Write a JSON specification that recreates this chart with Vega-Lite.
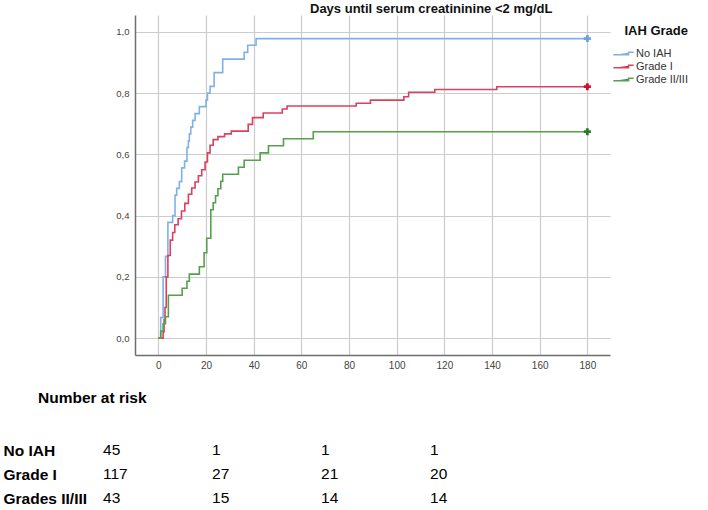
{
  "$schema": "https://vega.github.io/schema/vega-lite/v6.json",
  "padding": {"left": 3, "top": 3, "right": 0, "bottom": 0},
  "background": "white",
  "config": {
    "view": {"stroke": null},
    "font": "Liberation Sans"
  },
  "datasets": {
    "km": [
      {"grade": "No IAH", "day": 0, "p": 0},
      {"grade": "No IAH", "day": 1, "p": 0.067},
      {"grade": "No IAH", "day": 2, "p": 0.2},
      {"grade": "No IAH", "day": 3, "p": 0.267},
      {"grade": "No IAH", "day": 4, "p": 0.378},
      {"grade": "No IAH", "day": 6, "p": 0.4},
      {"grade": "No IAH", "day": 7, "p": 0.467},
      {"grade": "No IAH", "day": 7.7, "p": 0.489},
      {"grade": "No IAH", "day": 8.8, "p": 0.511},
      {"grade": "No IAH", "day": 9.8, "p": 0.556},
      {"grade": "No IAH", "day": 11, "p": 0.578},
      {"grade": "No IAH", "day": 12, "p": 0.622},
      {"grade": "No IAH", "day": 12.6, "p": 0.644},
      {"grade": "No IAH", "day": 13, "p": 0.667},
      {"grade": "No IAH", "day": 13.6, "p": 0.689},
      {"grade": "No IAH", "day": 14.4, "p": 0.711},
      {"grade": "No IAH", "day": 15.4, "p": 0.733},
      {"grade": "No IAH", "day": 17.2, "p": 0.756},
      {"grade": "No IAH", "day": 20, "p": 0.778},
      {"grade": "No IAH", "day": 20.6, "p": 0.8},
      {"grade": "No IAH", "day": 21.7, "p": 0.822},
      {"grade": "No IAH", "day": 23.4, "p": 0.867},
      {"grade": "No IAH", "day": 27, "p": 0.911},
      {"grade": "No IAH", "day": 36, "p": 0.933},
      {"grade": "No IAH", "day": 37.5, "p": 0.956},
      {"grade": "No IAH", "day": 41, "p": 0.978},
      {"grade": "No IAH", "day": 180, "p": 0.978},
      {"grade": "Grade I", "day": 0, "p": 0},
      {"grade": "Grade I", "day": 2, "p": 0.02},
      {"grade": "Grade I", "day": 2.4, "p": 0.06},
      {"grade": "Grade I", "day": 2.8, "p": 0.1},
      {"grade": "Grade I", "day": 3.3, "p": 0.2},
      {"grade": "Grade I", "day": 4, "p": 0.27},
      {"grade": "Grade I", "day": 5, "p": 0.32},
      {"grade": "Grade I", "day": 6, "p": 0.345},
      {"grade": "Grade I", "day": 6.9, "p": 0.37},
      {"grade": "Grade I", "day": 8.3, "p": 0.39},
      {"grade": "Grade I", "day": 9.7, "p": 0.415},
      {"grade": "Grade I", "day": 11.1, "p": 0.44},
      {"grade": "Grade I", "day": 12.6, "p": 0.47},
      {"grade": "Grade I", "day": 14, "p": 0.49},
      {"grade": "Grade I", "day": 15.4, "p": 0.51},
      {"grade": "Grade I", "day": 16.8, "p": 0.53},
      {"grade": "Grade I", "day": 18.2, "p": 0.55},
      {"grade": "Grade I", "day": 19.6, "p": 0.575},
      {"grade": "Grade I", "day": 20.6, "p": 0.605},
      {"grade": "Grade I", "day": 21.7, "p": 0.63},
      {"grade": "Grade I", "day": 23, "p": 0.648},
      {"grade": "Grade I", "day": 25, "p": 0.658},
      {"grade": "Grade I", "day": 27.8, "p": 0.667},
      {"grade": "Grade I", "day": 30.6, "p": 0.676},
      {"grade": "Grade I", "day": 37.7, "p": 0.698},
      {"grade": "Grade I", "day": 39.5, "p": 0.72},
      {"grade": "Grade I", "day": 44, "p": 0.735},
      {"grade": "Grade I", "day": 52, "p": 0.748},
      {"grade": "Grade I", "day": 54, "p": 0.758},
      {"grade": "Grade I", "day": 83, "p": 0.767},
      {"grade": "Grade I", "day": 89, "p": 0.777},
      {"grade": "Grade I", "day": 103, "p": 0.788},
      {"grade": "Grade I", "day": 105, "p": 0.803},
      {"grade": "Grade I", "day": 116, "p": 0.812},
      {"grade": "Grade I", "day": 142, "p": 0.821},
      {"grade": "Grade I", "day": 180, "p": 0.821},
      {"grade": "Grade II/III", "day": 0, "p": 0},
      {"grade": "Grade II/III", "day": 1, "p": 0.023},
      {"grade": "Grade II/III", "day": 2, "p": 0.047},
      {"grade": "Grade II/III", "day": 3, "p": 0.07},
      {"grade": "Grade II/III", "day": 4.2, "p": 0.14},
      {"grade": "Grade II/III", "day": 10, "p": 0.163},
      {"grade": "Grade II/III", "day": 12, "p": 0.186},
      {"grade": "Grade II/III", "day": 13, "p": 0.209},
      {"grade": "Grade II/III", "day": 17.2, "p": 0.233},
      {"grade": "Grade II/III", "day": 19.2, "p": 0.279},
      {"grade": "Grade II/III", "day": 20.3, "p": 0.326},
      {"grade": "Grade II/III", "day": 22, "p": 0.419},
      {"grade": "Grade II/III", "day": 23, "p": 0.442},
      {"grade": "Grade II/III", "day": 24, "p": 0.465},
      {"grade": "Grade II/III", "day": 25, "p": 0.488},
      {"grade": "Grade II/III", "day": 26.2, "p": 0.512},
      {"grade": "Grade II/III", "day": 27, "p": 0.535},
      {"grade": "Grade II/III", "day": 33.6, "p": 0.558},
      {"grade": "Grade II/III", "day": 36, "p": 0.581},
      {"grade": "Grade II/III", "day": 42.7, "p": 0.605},
      {"grade": "Grade II/III", "day": 46.2, "p": 0.628},
      {"grade": "Grade II/III", "day": 52.5, "p": 0.651},
      {"grade": "Grade II/III", "day": 65, "p": 0.674},
      {"grade": "Grade II/III", "day": 180, "p": 0.674}
    ],
    "risk": [
      {"group": "No IAH", "col": 0, "n": 45},
      {"group": "No IAH", "col": 60, "n": 1},
      {"group": "No IAH", "col": 120, "n": 1},
      {"group": "No IAH", "col": 180, "n": 1},
      {"group": "Grade I", "col": 0, "n": 117},
      {"group": "Grade I", "col": 60, "n": 27},
      {"group": "Grade I", "col": 120, "n": 21},
      {"group": "Grade I", "col": 180, "n": 20},
      {"group": "Grades II/III", "col": 0, "n": 43},
      {"group": "Grades II/III", "col": 60, "n": 15},
      {"group": "Grades II/III", "col": 120, "n": 14},
      {"group": "Grades II/III", "col": 180, "n": 14}
    ]
  },
  "spacing": 20,
  "vconcat": [
    {
      "width": 475,
      "height": 340,
      "title": {
        "text": "Days until serum creatininine <2 mg/dL",
        "anchor": "start",
        "frame": "group",
        "dx": 175,
        "fontSize": 13,
        "fontWeight": "bold",
        "color": "#111111",
        "offset": -1
      },
      "data": {"name": "km"},
      "encoding": {
        "x": {
          "field": "day",
          "type": "quantitative",
          "scale": {"domain": [-9.8, 189.5], "nice": false, "zero": false},
          "axis": {
            "values": [0, 20, 40, 60, 80, 100, 120, 140, 160, 180],
            "title": null,
            "ticks": false,
            "grid": true,
            "gridColor": "#cccccc",
            "gridWidth": 1.2,
            "domainColor": "#6e6e6e",
            "domainWidth": 1.5,
            "labelFontSize": 10,
            "labelPadding": 5,
            "labelColor": "#444444",
            "labelFlush": false
          }
        },
        "y": {
          "field": "p",
          "type": "quantitative",
          "scale": {"domain": [-0.055, 1.055], "nice": false, "zero": false},
          "axis": {
            "values": [0, 0.2, 0.4, 0.6, 0.8, 1],
            "labelExpr": "replace(format(datum.value, '.1f'), '.', ',')",
            "title": null,
            "ticks": false,
            "grid": true,
            "gridColor": "#cccccc",
            "gridWidth": 1.2,
            "domainColor": "#6e6e6e",
            "domainWidth": 1.5,
            "labelFontSize": 9.5,
            "labelPadding": 6,
            "labelColor": "#444444",
            "labelFlush": false
          }
        }
      },
      "layer": [
        {
          "mark": {"type": "line", "interpolate": "step-after", "strokeWidth": 1.6},
          "encoding": {
            "color": {
              "field": "grade",
              "type": "nominal",
              "scale": {
                "domain": ["No IAH", "Grade I", "Grade II/III"],
                "range": ["#80b1e6", "#d9415f", "#55a04c"]
              },
              "legend": {
                "title": "IAH Grade",
                "orient": "none",
                "legendX": 481,
                "legendY": 10,
                "padding": 0,
                "titleFontSize": 13,
                "titleFontWeight": "bold",
                "titleColor": "#111111",
                "titleAnchor": "end",
                "titlePadding": 8,
                "labelFontSize": 11,
                "labelColor": "#333333",
                "labelOffset": 5,
                "symbolType": "M-1.5,0.18H0.75V-0.18H1.5",
                "symbolSize": 182,
                "symbolStrokeWidth": 1.5,
                "symbolFillColor": "transparent",
                "rowPadding": 0
              }
            }
          }
        },
        {
          "transform": [{"filter": "datum.day == 180"}],
          "mark": {"type": "point", "shape": "cross", "filled": true, "size": 50, "opacity": 1},
          "encoding": {
            "fill": {
              "field": "grade",
              "type": "nominal",
              "scale": {
                "domain": ["No IAH", "Grade I", "Grade II/III"],
                "range": ["#6aa3e0", "#cc1030", "#2a7a2a"]
              },
              "legend": null
            }
          }
        }
      ]
    },
    {
      "width": 475,
      "height": 72,
      "title": {
        "text": "Number at risk",
        "anchor": "start",
        "dx": 35,
        "fontSize": 15.5,
        "fontWeight": "bold",
        "font": "Liberation Sans",
        "color": "#000000",
        "offset": 32
      },
      "data": {"name": "risk"},
      "mark": {
        "type": "text",
        "align": "left",
        "baseline": "middle",
        "fontSize": 15.5,
        "font": "Liberation Sans",
        "color": "#000000"
      },
      "encoding": {
        "x": {
          "field": "col",
          "type": "quantitative",
          "scale": {"domain": [17.6, 279], "nice": false, "zero": false},
          "axis": null
        },
        "y": {
          "field": "group",
          "type": "nominal",
          "sort": ["No IAH", "Grade I", "Grades II/III"],
          "scale": {"type": "point", "padding": 0.5},
          "axis": {
            "title": null,
            "domain": false,
            "ticks": false,
            "grid": false,
            "labelAlign": "left",
            "labelBaseline": "middle",
            "labelPadding": 132,
            "labelFontSize": 15.5,
            "labelFontWeight": "bold",
            "labelFont": "Liberation Sans",
            "labelColor": "#000000",
            "labelLimit": 300
          }
        },
        "text": {"field": "n", "type": "quantitative"}
      }
    }
  ],
  "resolve": {
    "scale": {"color": "independent", "fill": "independent"},
    "legend": {"color": "independent", "fill": "independent"}
  }
}
